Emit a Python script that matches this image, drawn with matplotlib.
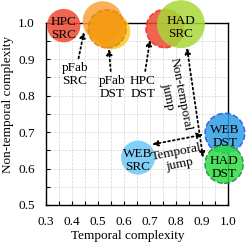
import matplotlib
matplotlib.use("Agg")
import matplotlib.pyplot as plt

# bubbles: label, temporal, non-temporal
labels = ["pFab\nDST-b", "pFab\nSRC", "pFab\nDST", "HPC\nSRC", "HPC\nDST", "HAD\nSRC",
          "WEB\nSRC", "WEB\nDST", "HAD\nDST"]
temporal = [0.556, 0.518, 0.535, 0.368, 0.758, 0.819, 0.654, 0.988, 0.985]
nontemporal = [0.976, 1.004, 0.983, 0.992, 0.984, 0.996, 0.630, 0.697, 0.612]
sizes = [650, 830, 750, 580, 760, 1190, 600, 820, 760]
colors = ["#fbc92a", "#f7a33c", "#f5990c", "#ee4a32", "#ee4a32", "#a8d838",
          "#6cc8f7", "#2f9ee6", "#2fdc44"]
edges = ["none", "none", "#dd8410", "none", "#e8301c", "none",
         "none", "#1f55e8", "#1f8a3e"]
show_label = [False, False, False, True, False, True, True, True, True]

# callouts: text, text position, arrow tip
note_text = ["pFab\nSRC", "pFab\nDST", "HPC\nDST"]
note_xy = [(0.446, 0.974), (0.542, 0.928), (0.700, 0.953)]
note_txt = [(0.412, 0.857), (0.554, 0.822), (0.672, 0.822)]

# jumps: start, end
jump_start = [(0.842, 0.931), (0.708, 0.666)]
jump_end = [(0.904, 0.630), (0.904, 0.693)]

plt.rcParams["font.family"] = "Liberation Serif"
plt.rcParams["font.size"] = 9.5

fig = plt.figure(figsize=(2.49, 2.42), dpi=100)
ax = fig.add_axes([0.1847, 0.1529, 0.7310, 0.7533])

ax.set_xlim(0.3, 1.0)
ax.set_ylim(0.5, 1.0)
ax.set_xticks([0.3, 0.4, 0.5, 0.6, 0.7, 0.8, 0.9, 1.0])
ax.set_yticks([0.5, 0.6, 0.7, 0.8, 0.9, 1.0])
ax.set_xticks([0.35, 0.45, 0.55, 0.65, 0.75, 0.85, 0.95], minor=True)
ax.set_yticks([0.55, 0.65, 0.75, 0.85, 0.95], minor=True)
ax.tick_params(which="both", direction="in", length=3, width=0.8, pad=8)
ax.grid(which="both", color="#d4d4d4", linestyle="--", linewidth=0.5)
ax.set_axisbelow(True)
for s in ax.spines.values():
    s.set_linewidth(1.0)

for i in range(len(labels)):
    ls = "--" if edges[i] != "none" else "-"
    ax.scatter(temporal[i], nontemporal[i], s=sizes[i], color=colors[i], alpha=0.85,
               edgecolors=edges[i], linewidths=1.1, linestyle=ls, zorder=3, clip_on=False)
    if show_label[i]:
        ax.text(temporal[i], nontemporal[i] - 0.008, labels[i], ha="center", va="center",
                linespacing=1.1, zorder=5)

arrow = dict(arrowstyle="-|>", linestyle=":", linewidth=1.3, color="black",
             mutation_scale=8, shrinkA=1, shrinkB=0)
for t, xy, xt in zip(note_text, note_xy, note_txt):
    ax.annotate(t, xy=xy, xytext=xt, ha="center", va="center",
                linespacing=1.1, arrowprops=arrow, zorder=6, annotation_clip=False)

darrow = dict(arrowstyle="<|-|>", linestyle=":", linewidth=1.3, color="black",
              mutation_scale=8, shrinkA=0, shrinkB=0)
for a, b in zip(jump_start, jump_end):
    ax.annotate("", xy=b, xytext=a, arrowprops=darrow, zorder=6, annotation_clip=False)

ax.text(0.792, 0.80, "Non-temporal\njump", rotation=-79, ha="center", va="center",
        linespacing=1.1, zorder=6)
ax.text(0.808, 0.628, "Temporal\njump", rotation=11, ha="center", va="center",
        linespacing=1.1, zorder=6)

ax.set_xlabel("Temporal complexity", labelpad=2)
ax.xaxis.set_label_coords(0.45, -0.135)
ax.set_ylabel("Non-temporal complexity", labelpad=3)
ax.yaxis.set_label_coords(-0.175, 0.55)

fig.savefig("out.png", dpi=100)
